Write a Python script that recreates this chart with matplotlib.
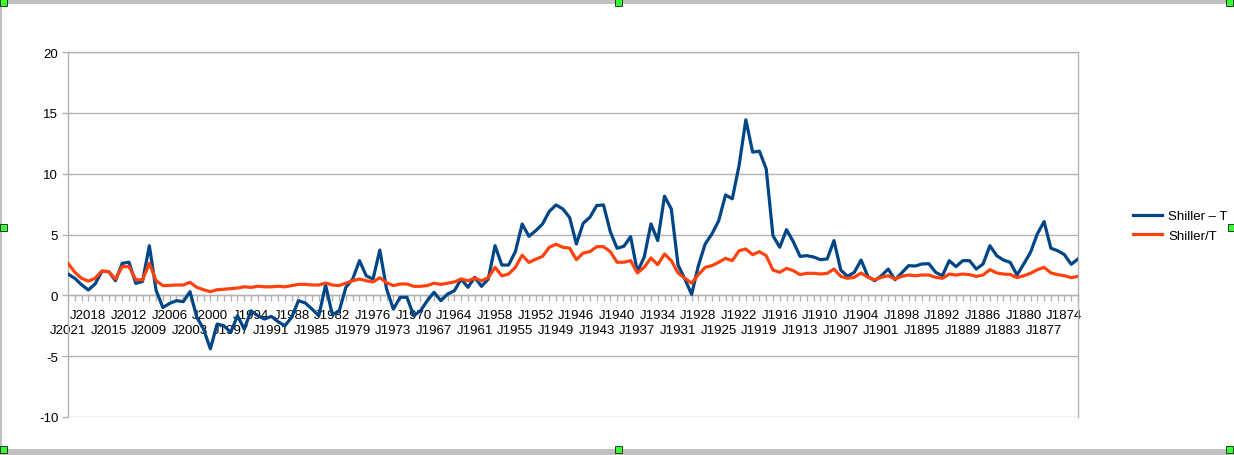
import matplotlib
matplotlib.use('Agg')
import matplotlib.pyplot as plt
from matplotlib.patches import Rectangle
from matplotlib.ticker import FixedLocator, MultipleLocator

plt.rcParams['font.family'] = ['Liberation Sans', 'DejaVu Sans']

years = list(range(2021, 1871, -1))
categories = [f"J{y}" for y in years]

shiller_minus_t = [
    1.75, 1.4, 0.87, 0.44, 0.93, 1.97, 1.95, 1.2, 2.63, 2.72,
    0.98, 1.15, 4.08, 0.4, -1.0, -0.66, -0.44, -0.52, 0.3, -1.8,
    -2.77, -4.4, -2.36, -2.5, -3.05, -1.68, -2.77, -1.27, -1.68, -1.95,
    -1.73, -2.17, -2.5, -1.8, -0.44, -0.63, -1.13, -1.68, 0.85, -1.6,
    -1.3, 0.66, 1.34, 2.85, 1.6, 1.34, 3.72, 0.52, -1.13, -0.16,
    -0.16, -1.68, -1.27, -0.44, 0.25, -0.44, 0.1, 0.38, 1.34, 0.66,
    1.48, 0.74, 1.34, 4.08, 2.49, 2.49, 3.59, 5.86, 4.85, 5.31,
    5.86, 6.9, 7.43, 7.1, 6.4, 4.22, 5.92, 6.42, 7.38, 7.43,
    5.24, 3.87, 4.03, 4.82, 1.94, 3.13, 5.87, 4.5, 8.15, 7.1,
    2.49, 1.34, 0.08, 2.44, 4.22, 5.05, 6.14, 8.25, 7.93, 10.67,
    14.43, 11.77, 11.85, 10.4, 4.9, 3.95, 5.4, 4.41, 3.2, 3.26,
    3.15, 2.93, 2.99, 4.5, 2.08, 1.56, 1.89, 2.9, 1.56, 1.2,
    1.61, 2.16, 1.28, 1.84, 2.44, 2.41, 2.58, 2.6, 1.89, 1.61,
    2.85, 2.36, 2.85, 2.85, 2.16, 2.58, 4.08, 3.26, 2.9, 2.71,
    1.67, 2.58, 3.54, 5.05, 6.06, 3.87, 3.67, 3.34, 2.55, 2.99,
]

shiller_over_t = [
    2.63, 1.9, 1.4, 1.17, 1.4, 2.0, 1.95, 1.34, 2.36, 2.36,
    1.28, 1.28, 2.63, 1.2, 0.8, 0.82, 0.85, 0.85, 1.07, 0.66,
    0.46, 0.3, 0.46, 0.5, 0.55, 0.6, 0.7, 0.65, 0.75, 0.7,
    0.7, 0.75, 0.7, 0.8, 0.9, 0.9, 0.85, 0.85, 1.01, 0.85,
    0.8, 1.0, 1.2, 1.34, 1.2, 1.1, 1.45, 1.04, 0.8, 0.93,
    0.93, 0.74, 0.74, 0.8, 1.0, 0.9, 1.0, 1.1, 1.34, 1.2,
    1.42, 1.2, 1.45, 2.3, 1.6, 1.75, 2.3, 3.3, 2.7, 2.97,
    3.2, 3.95, 4.2, 3.95, 3.88, 2.93, 3.48, 3.59, 4.0, 4.0,
    3.59, 2.72, 2.72, 2.85, 1.84, 2.3, 3.07, 2.52, 3.4, 2.85,
    1.84, 1.4, 1.01, 1.7, 2.3, 2.44, 2.72, 3.04, 2.85, 3.67,
    3.81, 3.34, 3.59, 3.26, 2.08, 1.89, 2.22, 2.03, 1.7, 1.81,
    1.81, 1.75, 1.81, 2.16, 1.56, 1.4, 1.48, 1.84, 1.48, 1.28,
    1.48, 1.61, 1.34, 1.56, 1.67, 1.61, 1.67, 1.67, 1.48, 1.4,
    1.75, 1.67, 1.75, 1.7, 1.56, 1.67, 2.11, 1.84, 1.75, 1.72,
    1.45, 1.61, 1.81, 2.11, 2.3, 1.84, 1.7, 1.61, 1.45, 1.56,
]

series_names = ["Shiller \u2013 T", "Shiller/T"]
series_colors = ["#004586", "#ff420e"]
y_ticks = [-10, -5, 0, 5, 10, 15, 20]

W, H = 1234, 456
fig = plt.figure(figsize=(W / 100, H / 100), dpi=100)
fig.patch.set_facecolor('white')

ax = fig.add_axes([68 / W, (H - 418) / H, 1010 / W, 365 / H])
x = list(range(len(categories)))
for vals, name, col in zip([shiller_minus_t, shiller_over_t], series_names, series_colors):
    ax.plot(x, vals, color=col, lw=2.3, label=name, solid_joinstyle='round', zorder=3)

ax.set_xlim(0, len(categories) - 1)
ax.set_ylim(-10, 20)
ax.set_yticks(y_ticks)
ax.set_yticklabels([str(v) for v in y_ticks])
ax.grid(axis='y', color='#b3b3b3', lw=1.0)
ax.set_axisbelow(True)

grey = '#b3b3b3'
for s in ['left', 'right', 'top', 'bottom']:
    ax.spines[s].set_color(grey)
    ax.spines[s].set_linewidth(1.0)
ax.spines['bottom'].set_position(('data', 0))
ax.spines['bottom'].set_zorder(1)

label_idx = list(range(0, len(categories), 3))
ax.xaxis.set_major_locator(FixedLocator(label_idx))
ax.xaxis.set_minor_locator(MultipleLocator(1))
ax.set_xticklabels([categories[i] for i in label_idx])
ax.tick_params(axis='x', which='both', direction='out', length=4.5,
               color=grey, width=1.0, labelsize=9.5, pad=3)
ax.tick_params(axis='y', which='major', direction='out', length=4,
               color=grey, width=1.0, labelsize=9.5, pad=3)
for k, t in enumerate(ax.xaxis.get_major_ticks()):
    t.set_pad(5 if k % 2 else 16.5)

fig.legend(loc='center left', bbox_to_anchor=(1133 / W, 1 - 227 / H),
           frameon=False, fontsize=9.5, handlelength=2.2, handletextpad=0.45,
           labelspacing=0.55, borderpad=0, borderaxespad=0)

# window frame decorations
deco = '#c0c0c0'
fig.patches.append(Rectangle((0, 1 - 5 / H), 1, 5 / H, transform=fig.transFigure,
                             facecolor=deco, edgecolor='none'))
fig.patches.append(Rectangle((0, 0), 1, 6 / H, transform=fig.transFigure,
                             facecolor=deco, edgecolor='none'))
fig.patches.append(Rectangle((0, 0), 2 / W, 1, transform=fig.transFigure,
                             facecolor=deco, edgecolor='none'))
for hx, hy in [(3, 4), (618, 4), (1229, 4), (3, 229), (1231, 229),
               (3, 451), (618, 451), (1229, 451)]:
    fig.patches.append(Rectangle(((hx - 3) / W, 1 - (hy + 3) / H), 7 / W, 7 / H,
                                 transform=fig.transFigure, facecolor='#33ff33',
                                 edgecolor='#1a1a1a', lw=0.6))

fig.savefig('out.png', dpi=100)
